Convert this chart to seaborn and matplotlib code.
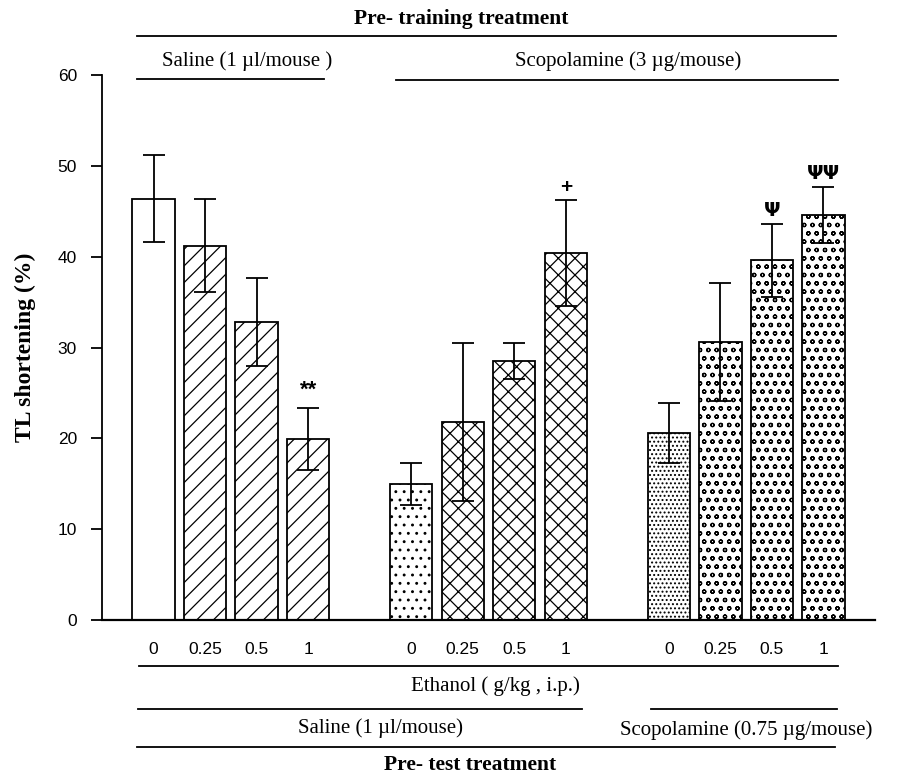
import numpy as np
import pandas as pd
import seaborn as sns
import matplotlib.pyplot as plt
from matplotlib.lines import Line2D

# ----------------- Data -----------------
doses = ["0", "0.25", "0.5", "1"]
pretrain = ["Saline"] * 4 + ["Scopolamine 3"] * 8
pretest = ["Saline"] * 8 + ["Scopolamine 0.75"] * 4
tl_mean = [46.4, 41.2, 32.8, 19.9,
           15.0, 21.8, 28.5, 40.4,
           20.6, 30.6, 39.6, 44.6]
tl_sem = [4.8, 5.1, 4.85, 3.4,
          2.3, 8.7, 2.0, 5.85,
          3.3, 6.45, 4.05, 3.1]
sig_marks = ["", "", "", "**", "", "", "", "+", "", "", "\u03a8", "\u03a8\u03a8"]
hatches = ["", "//", "//", "//",
           "..", "xx", "xx", "xx",
           "....", "oo", "oo", "oo"]

# bar slots: 4 doses per group, one empty slot between groups
pos = [0, 1, 2, 3, 5, 6, 7, 8, 10, 11, 12, 13]

df = pd.DataFrame({"pos": pos, "TL": tl_mean, "sem": tl_sem,
                   "dose": doses * 3, "pretrain": pretrain, "pretest": pretest})

W, H = 905, 776
fig = plt.figure(figsize=(W / 100, H / 100), dpi=100)
ax = fig.add_axes([102 / W, 1 - 620 / H, (875 - 102) / W, (620 - 75) / H])

plt.rcParams['hatch.linewidth'] = 0.9
sns.barplot(data=df, x="pos", y="TL", native_scale=True, width=0.82,
            color="white", saturation=1, edgecolor="black", linewidth=1.3,
            errorbar=None, ax=ax)

for patch, h in zip(ax.patches, hatches):
    patch.set_hatch(h)

ax.errorbar(df["pos"], df["TL"], yerr=df["sem"], fmt="none", ecolor="black",
            elinewidth=1.3, capsize=8, capthick=1.3)

for x, m, s, mark in zip(df["pos"], df["TL"], df["sem"], sig_marks):
    if not mark:
        continue
    if mark == "**":
        ax.text(x, m + s + 0.8, mark, ha="center", va="bottom", fontsize=16,
                fontweight="bold", family="Liberation Sans")
    elif mark == "+":
        ax.text(x, m + s + 0.3, mark, ha="center", va="bottom", fontsize=15,
                fontweight="bold", family="Liberation Sans")
    else:
        ax.text(x, m + s + 0.4, mark, ha="center", va="bottom", fontsize=14,
                fontweight="bold", family="DejaVu Sans")

ax.set_xlim(-1.0, 14.0)
ax.set_ylim(0, 60)
ax.set_yticks(np.arange(0, 61, 10))
ax.set_xticks(df["pos"])
ax.set_xticklabels(df["dose"])
ax.tick_params(axis="x", length=0, pad=16, labelsize=12.5)
ax.tick_params(axis="y", length=8, width=1.3, pad=10, labelsize=12.5, direction="out")
for lab in ax.get_xticklabels() + ax.get_yticklabels():
    lab.set_family("Liberation Sans")
ax.spines["top"].set_visible(False)
ax.spines["right"].set_visible(False)
ax.spines["left"].set_linewidth(1.3)
ax.spines["bottom"].set_linewidth(1.6)
ax.set_xlabel("")
ax.set_ylabel("TL shortening (%)", fontsize=17, fontweight="bold",
              family="Liberation Serif")
ax.yaxis.set_label_coords(-0.085, 0.5)


# ----------------- Treatment labels around the plot -----------------
def hline(x0, x1, y, lw=1.3):
    fig.add_artist(Line2D([x0 / W, x1 / W], [1 - y / H, 1 - y / H],
                          transform=fig.transFigure, color="black", lw=lw))


def label(x, y, s, bold=False):
    fig.text(x / W, 1 - y / H, s, ha="center", va="center",
             fontsize=15.5 if bold else 15, family="Liberation Serif",
             fontweight="bold" if bold else "normal")


# pre-training (top)
label(461, 19, "Pre- training treatment", bold=True)
hline(137, 836, 36)
label(247, 61, "Saline (1 \u00b5l/mouse )")
hline(137, 324, 79)
label(628, 61, "Scopolamine (3 \u00b5g/mouse)")
hline(396, 838, 80)

# pre-test (bottom)
hline(139, 838, 666)
label(495, 686, "Ethanol ( g/kg , i.p.)")
hline(138, 582, 709)
hline(651, 837, 709)
label(380, 728, "Saline (1 \u00b5l/mouse)")
label(746, 730, "Scopolamine (0.75 \u00b5g/mouse)")
hline(137, 835, 747)
label(470, 765, "Pre- test treatment", bold=True)

plt.savefig("out.png", dpi=100)
